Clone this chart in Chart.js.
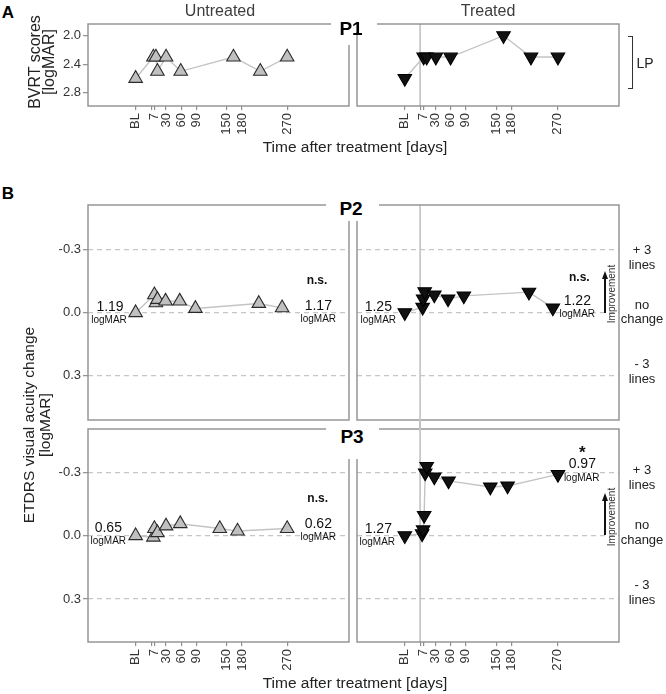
<!DOCTYPE html>
<html><head><meta charset="utf-8">
<script src="https://cdn.jsdelivr.net/npm/chart.js@4.4.1/dist/chart.umd.min.js"></script>
<style>
html,body{margin:0;padding:0;background:#fff;overflow:hidden;width:666px;height:694px}
#root{position:relative;width:666px;height:694px;font-family:"Liberation Sans",Arial,Helvetica,sans-serif;overflow:hidden}
canvas{position:absolute}
.t{position:absolute;transform:translate(-50%,-50%);white-space:nowrap;line-height:1;color:#1a1a1a}
.mask{position:absolute;background:#fff}
.blk{position:absolute}
</style></head><body><div id="root"></div>
<script>
const FONT = '"Liberation Sans", Arial, Helvetica, sans-serif';

// ---------------- data ----------------
const xTickDays   = [-30, 1, 7, 30, 60, 90, 150, 180, 270];
const xTickLabels = ['BL', '', '7', '30', '60', '90', '150', '180', '270'];
const bvrtTicks   = [2.0, 2.4, 2.8];
const etdrsTicks  = [-0.3, 0.0, 0.3];

const p1UntreatedDays = [-30, 5, 10, 13, 30, 59, 163, 216, 269];
const p1UntreatedBVRT = [2.6, 2.3, 2.3, 2.5, 2.3, 2.5, 2.3, 2.5, 2.3];
const p1TreatedDays   = [-30, 7, 13, 31, 60, 164, 218, 271];
const p1TreatedBVRT   = [2.6, 2.3, 2.3, 2.3, 2.3, 2.0, 2.3, 2.3];

const p2UntreatedDays   = [-30, 7, 10, 13, 29, 57, 88, 213, 259];
const p2UntreatedChange = [0.0, -0.085, -0.047, -0.063, -0.055, -0.055, -0.02, -0.044, -0.023];
const p2TreatedDays     = [-30, 5, 6, 9, 28, 55, 86, 214, 261];
const p2TreatedChange   = [0.0, -0.026, -0.066, -0.10, -0.085, -0.066, -0.08, -0.098, -0.023];

const p3UntreatedDays   = [-30, 5, 7, 13, 30, 58, 136, 171, 269];
const p3UntreatedChange = [0.0, 0.007, -0.034, -0.014, -0.046, -0.057, -0.034, -0.022, -0.034];
const p3TreatedDays     = [-30, 4, 6, 8, 10, 13, 28, 56, 138, 172, 271];
const p3TreatedChange   = [0.0, -0.009, -0.028, -0.096, -0.298, -0.329, -0.279, -0.26, -0.231, -0.236, -0.291];

// ---------------- layout ----------------
const X_MIN = -124, X_MAX = 391;
const FRAME = '#8f8f8f';
const root = document.getElementById('root');
Chart.defaults.font.family = FONT;

const framePlugin = {
  id: 'frame',
  beforeDatasetsDraw(chart, args, opts) {
    const a = chart.chartArea, ctx = chart.ctx;
    if (opts.treat) {
      const x = chart.scales.x.getPixelForValue(0);
      ctx.save(); ctx.strokeStyle = '#c2c2c2'; ctx.lineWidth = 1.6;
      ctx.beginPath(); ctx.moveTo(x, a.top); ctx.lineTo(x, a.bottom); ctx.stroke(); ctx.restore();
    }
  },
  afterDraw(chart) {
    const a = chart.chartArea, ctx = chart.ctx;
    ctx.save(); ctx.strokeStyle = FRAME; ctx.lineWidth = 1.4;
    ctx.strokeRect(a.left, a.top, a.right - a.left, a.bottom - a.top); ctx.restore();
  }
};

function makePanel(p) {
  const PL = 24, PR = 24, PT = 26, PB = 24;
  const leftW = p.leftAxis ? 46 : 0;
  const botH = p.xAxis ? 44 : 0;
  const W = PL + leftW + p.w + PR;
  const H = PT + p.h + botH + PB;
  const c = document.createElement('canvas');
  c.width = W; c.height = H;
  c.style.left = (p.x - PL - leftW) + 'px';
  c.style.top = (p.y - PT) + 'px';
  c.style.width = W + 'px'; c.style.height = H + 'px';
  root.appendChild(c);
  const yTicks = p.yTicks;
  new Chart(c, {
    type: 'line',
    data: { datasets: [{
      data: p.days.map((d, i) => ({ x: d, y: p.vals[i] })),
      borderColor: '#c4c4c4', borderWidth: 1.4, tension: 0, fill: false,
      pointStyle: 'triangle', pointRadius: 7.8, pointRotation: p.treated ? 180 : 0,
      pointBackgroundColor: p.treated ? '#111111' : '#c0c0c0',
      pointBorderColor: p.treated ? '#000000' : '#2a2a2a', pointBorderWidth: 1.1,
      clip: false
    }]},
    options: {
      responsive: false, animation: false, events: [],
      layout: { padding: { left: PL, right: PR, top: PT, bottom: PB } },
      plugins: { legend: { display: false }, tooltip: { enabled: false }, frame: { treat: p.treat } },
      scales: {
        x: {
          type: 'linear', min: X_MIN, max: X_MAX, display: p.xAxis,
          afterBuildTicks: s => { s.ticks = xTickDays.map(v => ({ value: v })); },
          afterFit: s => { s.height = botH; },
          ticks: { autoSkip: false, minRotation: 90, maxRotation: 90, padding: 3, color: '#333',
                   font: { size: 13 }, callback: (v, i) => xTickLabels[i] },
          grid: { drawOnChartArea: false, drawTicks: true, tickLength: 4, color: FRAME, tickColor: FRAME, lineWidth: 1.2, tickWidth: 1.2 },
          border: { display: false }
        },
        y: {
          type: 'linear', min: p.yMin, max: p.yMax, reverse: true, position: 'left',
          display: p.leftAxis || p.dashed,
          afterBuildTicks: s => { s.ticks = yTicks.map(v => ({ value: v })); },
          afterFit: s => { s.width = leftW; },
          ticks: { display: p.leftAxis, padding: 2, color: '#333', font: { size: 13 },
                   callback: v => Number(v).toFixed(1) },
          grid: { drawOnChartArea: p.dashed, drawTicks: p.leftAxis, tickLength: 5,
                  color: '#c6c6c6', tickColor: FRAME, lineWidth: 1.3, tickWidth: 1.2, tickBorderDash: [] },
          border: { display: false, dash: p.dashed ? [5, 4] : [] }
        }
      }
    },
    plugins: [framePlugin]
  });
}

const panels = [
  { x: 88,  y: 24,  w: 261, h: 82,  yMin: 1.836, yMax: 2.987, yTicks: bvrtTicks,  leftAxis: true,  xAxis: true,  dashed: false, treat: false, treated: false, days: p1UntreatedDays, vals: p1UntreatedBVRT },
  { x: 357, y: 24,  w: 262, h: 82,  yMin: 1.836, yMax: 2.987, yTicks: bvrtTicks,  leftAxis: false, xAxis: true,  dashed: false, treat: true,  treated: true,  days: p1TreatedDays,   vals: p1TreatedBVRT },
  { x: 88,  y: 205, w: 261, h: 215, yMin: -0.513, yMax: 0.511, yTicks: etdrsTicks, leftAxis: true,  xAxis: false, dashed: true,  treat: false, treated: false, days: p2UntreatedDays, vals: p2UntreatedChange },
  { x: 357, y: 205, w: 262, h: 215, yMin: -0.513, yMax: 0.511, yTicks: etdrsTicks, leftAxis: false, xAxis: false, dashed: true,  treat: true,  treated: true,  days: p2TreatedDays,   vals: p2TreatedChange },
  { x: 88,  y: 429, w: 261, h: 213, yMin: -0.506, yMax: 0.504, yTicks: etdrsTicks, leftAxis: true,  xAxis: true,  dashed: true,  treat: false, treated: false, days: p3UntreatedDays, vals: p3UntreatedChange },
  { x: 357, y: 429, w: 262, h: 213, yMin: -0.506, yMax: 0.504, yTicks: etdrsTicks, leftAxis: false, xAxis: true,  dashed: true,  treat: true,  treated: true,  days: p3TreatedDays,   vals: p3TreatedChange }
];
panels.forEach(makePanel);

// ---------------- overlays ----------------
function box(cls, x, y, w, h, extra) {
  const d = document.createElement('div');
  d.className = cls;
  d.style.cssText = `left:${x}px;top:${y}px;width:${w}px;height:${h}px;` + (extra || '');
  root.appendChild(d); return d;
}
function text(s, x, y, size, opt) {
  opt = opt || {};
  const d = document.createElement('div');
  d.className = 't';
  d.textContent = s;
  d.style.left = x + 'px'; d.style.top = y + 'px';
  d.style.fontSize = size + 'px';
  if (opt.bold) d.style.fontWeight = 'bold';
  if (opt.color) d.style.color = opt.color;
  if (opt.rot) d.style.transform = 'translate(-50%,-50%) rotate(-90deg)';
  root.appendChild(d); return d;
}

// masks behind the P strip labels
box('mask', 331, 12, 46, 20);
box('mask', 344, 20, 10, 25);
box('mask', 326, 196, 53, 25);
box('mask', 326, 421, 53, 38);
// treatment line across the gap between P2 and P3
box('blk', 419.3, 419, 1.6, 11, 'background:#c2c2c2');

// panel letters and headers
text('A', 8, 11.5, 17, { bold: true, color: '#000' });
text('B', 8, 192.5, 17, { bold: true, color: '#000' });
text('Untreated', 220, 11, 16, { color: '#3d3d3d' });
text('Treated', 488, 11, 16, { color: '#3d3d3d' });
text('P1', 351, 28, 19, { bold: true, color: '#000' });
text('P2', 351, 208, 19, { bold: true, color: '#000' });
text('P3', 352, 436, 19, { bold: true, color: '#000' });

// axis titles
text('Time after treatment [days]', 355, 147, 15.5, { color: '#222' });
text('Time after treatment [days]', 355, 683, 15.5, { color: '#222' });
text('BVRT scores', 35, 62, 16, { rot: true, color: '#222' });
text('[logMAR]', 49, 62, 16, { rot: true, color: '#222' });
text('ETDRS visual acuity change', 29, 425, 15.5, { rot: true, color: '#222' });
text('[logMAR]', 45, 425, 15.5, { rot: true, color: '#222' });

// LP bracket
box('blk', 628, 36, 3.5, 51, 'border:1.3px solid #333;border-left:none');
text('LP', 645, 63, 14, { color: '#222' });

// right-hand line labels
[[249, 264, 469.3, 484, '+ 3', 'lines'], [304, 318.3, 524, 539.3, 'no', 'change'], [363.3, 378.3, 584, 599, '- 3', 'lines']]
  .forEach(r => {
    text(r[4], 642, r[0], 13, { color: '#222' }); text(r[5], 642, r[1], 13, { color: '#222' });
    text(r[4], 642, r[2], 13, { color: '#222' }); text(r[5], 642, r[3], 13, { color: '#222' });
  });

// improvement arrows
function arrow(tipY, bottomY, textY) {
  box('blk', 604.3, tipY + 6, 1.4, bottomY - tipY - 6, 'background:#111');
  box('blk', 602, tipY, 0, 0, 'border-left:3px solid transparent;border-right:3px solid transparent;border-bottom:8px solid #111');
  text('Improvement', 612, textY, 10, { rot: true, color: '#333' });
}
arrow(271, 313, 293.5);
arrow(493, 535, 516.5);

// annotations
function val(num, x, y, lx, ly) {
  text(num, x, y, 14, { color: '#111' });
  text('logMAR', lx, ly, 10, { color: '#111' });
}
val('1.19', 110, 306, 109, 319.5);
val('1.17', 318.3, 305, 318.3, 318.5);
text('n.s.', 317, 280, 12, { bold: true, color: '#111' });
val('1.25', 378.3, 306, 378.3, 319.5);
val('1.22', 577.3, 300, 577.3, 314.3);
text('n.s.', 579.3, 277, 12, { bold: true, color: '#111' });
val('0.65', 108.3, 527.3, 108.3, 541);
val('0.62', 318.3, 523.3, 318.3, 537.3);
text('n.s.', 317.7, 498.3, 12, { bold: true, color: '#111' });
val('1.27', 378.3, 528.3, 377.3, 542.3);
val('0.97', 582.3, 463.3, 581.7, 478.3);
text('*', 582.3, 452, 17, { bold: true, color: '#111' });
</script></body></html>
